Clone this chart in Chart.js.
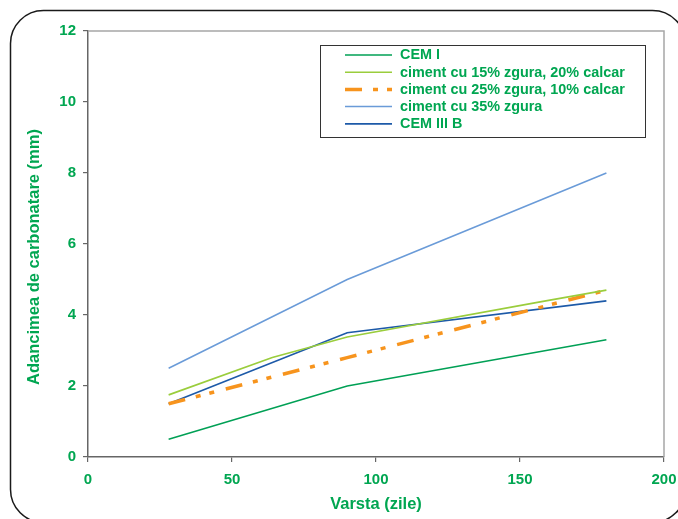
<!DOCTYPE html>
<html>
<head>
<meta charset="utf-8">
<script src="https://cdn.jsdelivr.net/npm/chart.js@4/dist/chart.umd.min.js"></script>
<style>
  html, body { margin: 0; padding: 0; background: #fff; }
  #wrap { position: relative; width: 678px; height: 519px; overflow: hidden; }
  canvas { display: block; }
</style>
</head>
<body>
<div id="wrap"><canvas id="c" width="678" height="519"></canvas></div>
<script>
// Carbonation depth (mm) versus age (days)
const ageDays = [28, 90, 180];
const ageDaysZgura15 = [28, 64, 90, 157, 180];

const cemI = [0.5, 2.0, 3.3];
const zgura15Calcar20 = [1.75, 2.8, 3.38, 4.37, 4.7];
const zgura25Calcar10 = [1.5, 2.8, 4.7];
const zgura35 = [2.5, 5.0, 8.0];
const cemIIIB = [1.5, 3.5, 4.4];

const seriesNames = [
  'CEM I',
  'ciment cu 15% zgura, 20% calcar',
  'ciment cu 25% zgura, 10% calcar',
  'ciment cu 35% zgura',
  'CEM III B'
];

const xTitle = 'Varsta (zile)';
const yTitle = 'Adancimea de carbonatare (mm)';

const GREEN_TEXT = '#00a651';
const FONT = "'Liberation Sans', Arial, sans-serif";
const DASH_25 = [17, 11, 5, 9, 5, 12];

const pts = (xs, ys) => xs.map((x, i) => ({ x, y: ys[i] }));

const datasets = [
  { label: seriesNames[0], data: pts(ageDays, cemI), borderColor: '#00a055', borderWidth: 1.5 },
  { label: seriesNames[1], data: pts(ageDaysZgura15, zgura15Calcar20), borderColor: '#9acd3c', borderWidth: 1.6 },
  { label: seriesNames[2], data: pts(ageDays, zgura25Calcar10), borderColor: '#f7941d', borderWidth: 3.5, borderDash: DASH_25 },
  { label: seriesNames[3], data: pts(ageDays, zgura35), borderColor: '#6a9bd8', borderWidth: 1.5 },
  { label: seriesNames[4], data: pts(ageDays, cemIIIB), borderColor: '#1d5aa8', borderWidth: 1.7 }
].map(d => Object.assign({ pointRadius: 0, fill: false, tension: 0, borderCapStyle: 'butt' }, d));

// Rounded outer frame of the figure
const framePlugin = {
  id: 'frame',
  beforeDraw(chart) {
    const ctx = chart.ctx;
    ctx.save();
    ctx.fillStyle = '#fff';
    ctx.fillRect(0, 0, chart.width, chart.height);
    ctx.beginPath();
    ctx.roundRect(10.5, 10.5, 675, 512, 33);
    ctx.strokeStyle = '#1a1a1a';
    ctx.lineWidth = 1.5;
    ctx.stroke();
    ctx.restore();
  }
};

// Light grey top and right edges of the plot area, plus the vertical axis title
const plotEdgePlugin = {
  id: 'plotEdge',
  beforeDatasetsDraw(chart) {
    const { ctx, chartArea: a } = chart;
    ctx.save();
    ctx.strokeStyle = '#a6a6a6';
    ctx.lineWidth = 1.5;
    ctx.beginPath();
    ctx.moveTo(a.left, a.top);
    ctx.lineTo(a.right, a.top);
    ctx.lineTo(a.right, a.bottom);
    ctx.stroke();

    ctx.translate(34, 257);
    ctx.rotate(-Math.PI / 2);
    ctx.font = 'bold 16.5px ' + FONT;
    ctx.fillStyle = GREEN_TEXT;
    ctx.textAlign = 'center';
    ctx.textBaseline = 'middle';
    ctx.fillText(yTitle, 0, 0);
    ctx.restore();
  }
};

// Boxed legend inside the plot area
const boxLegendPlugin = {
  id: 'boxLegend',
  afterDatasetsDraw(chart) {
    const ctx = chart.ctx;
    const x0 = 320.5, y0 = 45.5, w = 325, h = 92;
    ctx.save();
    ctx.fillStyle = '#fff';
    ctx.fillRect(x0, y0, w, h);
    ctx.strokeStyle = '#333';
    ctx.lineWidth = 1;
    ctx.strokeRect(x0, y0, w, h);
    ctx.font = 'bold 14.4px ' + FONT;
    ctx.textBaseline = 'middle';
    ctx.textAlign = 'left';
    chart.data.datasets.forEach((ds, i) => {
      const y = 55 + i * 17.2;
      ctx.beginPath();
      ctx.setLineDash(ds.borderDash || []);
      ctx.lineDashOffset = 0;
      ctx.strokeStyle = ds.borderColor;
      ctx.lineWidth = ds.borderWidth;
      ctx.lineCap = 'butt';
      ctx.moveTo(345, y);
      ctx.lineTo(392, y);
      ctx.stroke();
      ctx.setLineDash([]);
      ctx.fillStyle = GREEN_TEXT;
      ctx.fillText(ds.label, 400, y + 0.5);
    });
    ctx.restore();
  }
};

new Chart(document.getElementById('c'), {
  type: 'line',
  data: { datasets },
  options: {
    responsive: false,
    animation: false,
    events: [],
    layout: { padding: { left: 0, top: 31, right: 14, bottom: 0 } },
    plugins: { legend: { display: false }, tooltip: { enabled: false } },
    scales: {
      x: {
        type: 'linear',
        min: 0, max: 200,
        afterFit(s) { s.height = 62; s.paddingRight = 0; s.paddingLeft = 0; },
        ticks: { stepSize: 50, color: GREEN_TEXT, font: { family: FONT, size: 15, weight: 'bold' }, padding: 9, maxRotation: 0 },
        grid: { display: true, drawOnChartArea: false, drawTicks: true, tickLength: 5, color: '#666', lineWidth: 1.2 },
        border: { display: true, color: '#666', width: 1.5 },
        title: { display: true, text: xTitle, color: GREEN_TEXT, font: { family: FONT, size: 16.5, weight: 'bold' }, padding: { top: 0, bottom: 5 } }
      },
      y: {
        type: 'linear',
        min: 0, max: 12,
        afterFit(s) { s.width = 88; },
        ticks: { stepSize: 2, color: GREEN_TEXT, font: { family: FONT, size: 15, weight: 'bold' }, padding: 7 },
        grid: { display: true, drawOnChartArea: false, drawTicks: true, tickLength: 5, color: '#666', lineWidth: 1.2 },
        border: { display: true, color: '#666', width: 1.5 },
        title: { display: false }
      }
    }
  },
  plugins: [framePlugin, plotEdgePlugin, boxLegendPlugin]
});
</script>
</body>
</html>
